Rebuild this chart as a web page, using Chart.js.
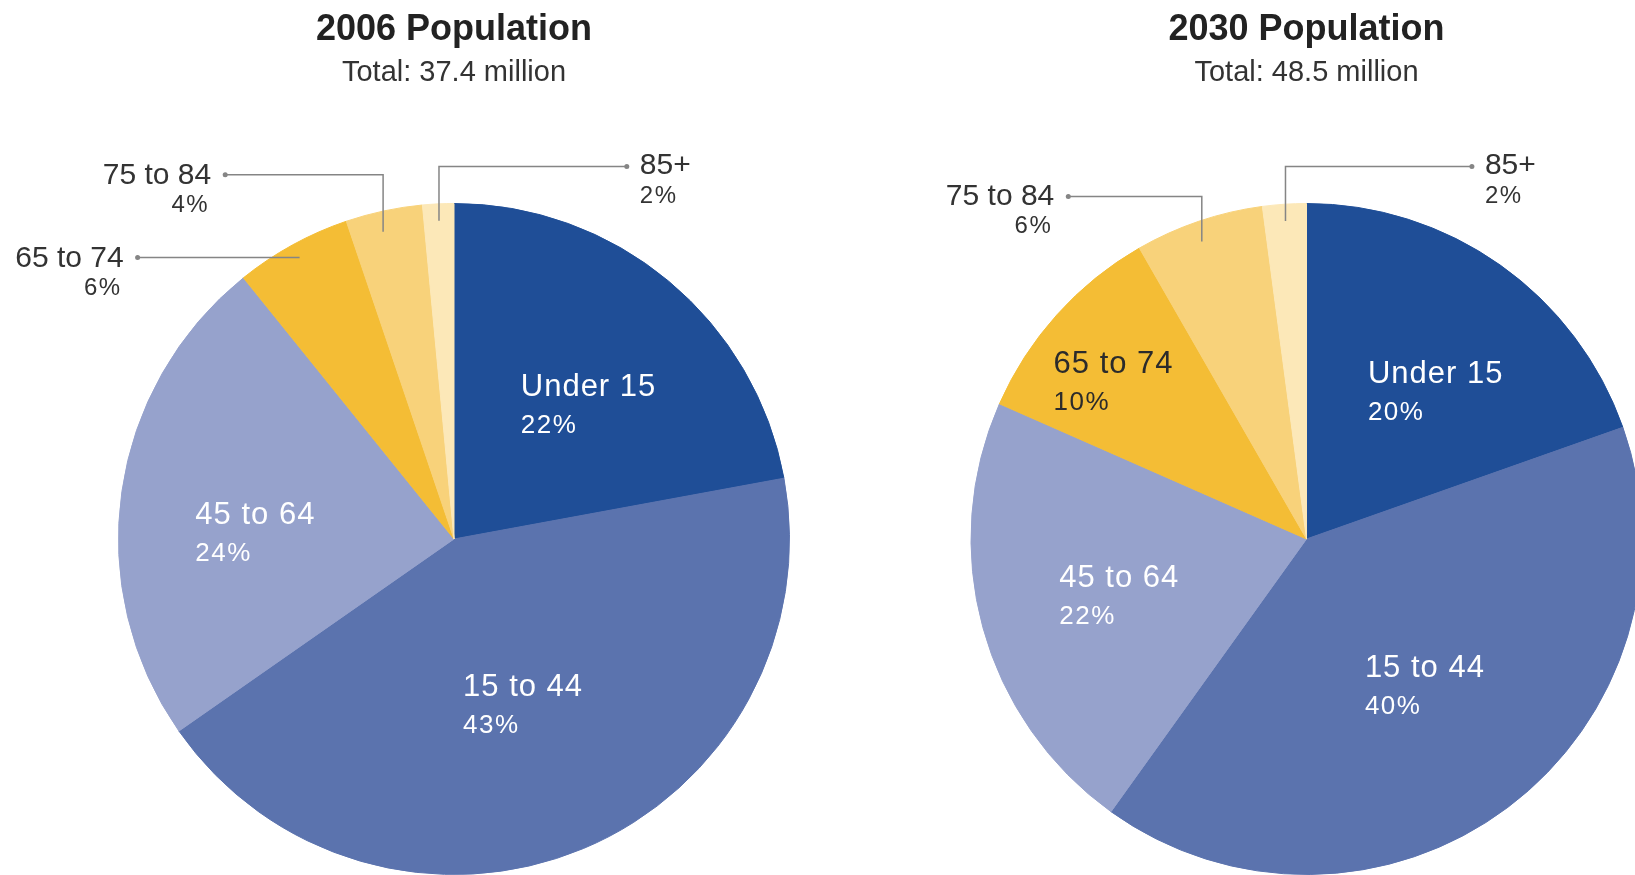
<!DOCTYPE html>
<html>
<head>
<meta charset="utf-8">
<title>Population by age group</title>
<script src="https://cdn.jsdelivr.net/npm/chart.js@4.4.1/dist/chart.umd.min.js"></script>
<style>
  html, body { margin: 0; padding: 0; background: #fff; overflow: hidden; }
  .wrap { position: relative; width: 1635px; height: 875px; overflow: hidden; }
  #pie2006 { position: absolute; left: 0; top: 0; }
  #pie2030 { position: absolute; left: 817px; top: 0; }
</style>
</head>
<body>
<div class="wrap">
  <canvas id="pie2006" width="817" height="875"></canvas>
  <canvas id="pie2030" width="840" height="875"></canvas>
</div>
<script>
const ageGroups = ["Under 15", "15 to 44", "45 to 64", "65 to 74", "75 to 84", "85+"];
const share2006 = [22.1, 43.2, 23.9, 5.6, 3.7, 1.5];
const share2030 = [19.6, 40.3, 21.7, 10.1, 6.2, 2.1];
const titles = ["2006 Population", "2030 Population"];
const totals = ["Total: 37.4 million", "Total: 48.5 million"];

const sliceColors = ["#1f4e97", "#5b73ae", "#96a2cc", "#f4bd35", "#f8d27a", "#fce8b8"];
const insideInk = ["#ffffff", "#ffffff", "#ffffff", "#2b2b2b", "#2b2b2b", "#2b2b2b"];

// label placement, in units of the pie radius measured from its centre
// t = where along the slice the leader line lands (0 start, 1 end)
const inside2006 = [[0.199, -0.426], [0.027, 0.467], [-0.771, -0.045], null, null, null];
const callout2006 = [null, null, null,
  { dot: [-0.943, -0.839], r: 0.96, t: 0.5 },
  { dot: [-0.682, -1.086], r: 0.94, t: 0.43 },
  { dot: [0.515, -1.110], r: 0.95, t: 0.5 }];
const inside2030 = [[0.183, -0.464], [0.174, 0.411], [-0.737, 0.143], [-0.754, -0.494], null, null];
const callout2030 = [null, null, null, null,
  { dot: [-0.710, -1.021], r: 0.94, t: 0.47 },
  { dot: [0.493, -1.110], r: 0.95, t: 0.5 }];

const FONT = "'Liberation Sans', Arial, Helvetica, sans-serif";
Chart.defaults.font.family = FONT;

const labelPlugin = (inside, callouts) => ({
  id: "sliceLabels",
  afterDatasetsDraw(chart) {
    const ctx = chart.ctx;
    const meta = chart.getDatasetMeta(0);
    const values = chart.data.datasets[0].data;
    ctx.save();
    ctx.textBaseline = "alphabetic";
    meta.data.forEach((arc, i) => {
      const { x, y, startAngle, endAngle, outerRadius } =
        arc.getProps(["x", "y", "startAngle", "endAngle", "outerRadius"], true);
      const name = chart.data.labels[i];
      const pct = Math.round(values[i]) + "%";

      const inn = inside[i];
      if (inn) {
        const lx = x + inn[0] * outerRadius;
        const ly = y + inn[1] * outerRadius;
        ctx.fillStyle = insideInk[i];
        ctx.textAlign = "left";
        ctx.letterSpacing = "1px";
        ctx.font = "31px " + FONT;
        ctx.fillText(name, lx, ly);
        ctx.letterSpacing = "1.5px";
        ctx.font = "26px " + FONT;
        ctx.fillText(pct, lx, ly + 37);
      }

      const co = callouts[i];
      if (co) {
        const ang = startAngle + (endAngle - startAngle) * co.t;
        const ex = x + Math.cos(ang) * co.r * outerRadius;
        const ey = y + Math.sin(ang) * co.r * outerRadius;
        const dx = x + co.dot[0] * outerRadius;
        const dy = y + co.dot[1] * outerRadius;
        ctx.strokeStyle = "#858585";
        ctx.lineWidth = 1.5;
        ctx.beginPath();
        ctx.moveTo(ex, ey);
        ctx.lineTo(ex, dy);
        ctx.lineTo(dx, dy);
        ctx.stroke();
        ctx.fillStyle = "#858585";
        ctx.beginPath();
        ctx.arc(dx, dy, 2.5, 0, Math.PI * 2);
        ctx.fill();

        const onLeft = dx < x;
        ctx.fillStyle = "#333333";
        ctx.textAlign = onLeft ? "right" : "left";
        ctx.letterSpacing = "0px";
        ctx.font = "30px " + FONT;
        ctx.fillText(name, onLeft ? dx - 14 : dx + 13, dy + (onLeft ? 9 : 7));
        ctx.letterSpacing = "1.5px";
        ctx.font = "24px " + FONT;
        ctx.fillText(pct, onLeft ? dx - 16 : dx + 13, dy + (onLeft ? 37 : 36));
      }
    });
    ctx.restore();
  }
});

const makePie = (canvas, values, idx, padLeft, padRight, inside, callouts) =>
  new Chart(canvas, {
    type: "pie",
    data: {
      labels: ageGroups,
      datasets: [{
        data: values,
        backgroundColor: sliceColors,
        borderColor: sliceColors,
        borderWidth: 1,
        hoverOffset: 0,
      }],
    },
    options: {
      responsive: false,
      animation: false,
      events: [],
      layout: { padding: { left: padLeft, right: padRight, top: 0, bottom: 0 } },
      plugins: {
        legend: { display: false },
        tooltip: { enabled: false },
        title: {
          display: true,
          text: titles[idx],
          color: "#222222",
          font: { size: 36, weight: "bold", lineHeight: 1.2 },
          padding: { top: 8, bottom: 0 },
        },
        subtitle: {
          display: true,
          text: totals[idx],
          color: "#333333",
          font: { size: 29, lineHeight: 1.2 },
          padding: { top: 4, bottom: 113 },
        },
      },
    },
    plugins: [labelPlugin(inside, callouts)],
  });

makePie(document.getElementById("pie2006"), share2006, 0, 118, 27, inside2006, callout2006);
makePie(document.getElementById("pie2030"), share2030, 1, 153.5, 14.5, inside2030, callout2030);
</script>
</body>
</html>
